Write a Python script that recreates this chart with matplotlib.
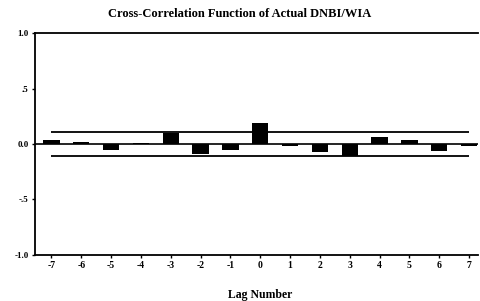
import matplotlib
matplotlib.use("Agg")
import matplotlib.pyplot as plt

lags = [-7, -6, -5, -4, -3, -2, -1, 0, 1, 2, 3, 4, 5, 6, 7]
ccf = [0.035, 0.015, -0.055, 0.01, 0.10, -0.09, -0.05, 0.19, -0.02,
       -0.075, -0.105, 0.065, 0.04, -0.06, -0.015]
conf_limit = 0.105
ytick_vals = [-1.0, -0.5, 0.0, 0.5, 1.0]
ytick_labels = ["-1.0", "-.5", "0.0", ".5", "1.0"]

plt.rcParams['font.family'] = ['Liberation Serif', 'DejaVu Serif']

fig = plt.figure(figsize=(4.8, 3.01), dpi=100)
ax = fig.add_axes([0.073, 0.153, 0.923, 0.737])

ax.bar(lags, ccf, width=0.55, color="black")
ax.axhline(0, color="black", lw=1.2)
ax.hlines([conf_limit, -conf_limit], lags[0], lags[-1], color="black", lw=1.3)

ax.set_xlim(-7.55, 7.3)
ax.set_ylim(-1.0, 1.0)
ax.set_xticks(lags)
ax.set_xticklabels([str(l) for l in lags], fontsize=7, fontweight="bold")
ax.set_yticks(ytick_vals)
ax.set_yticklabels(ytick_labels, fontsize=6.5, fontweight="bold")
ax.tick_params(axis="both", length=2.5, width=1, pad=2)

ax.spines["right"].set_visible(False)
for s in ["left", "bottom", "top"]:
    ax.spines[s].set_linewidth(1.3)

fig.text(0.5, 0.955, "Cross-Correlation Function of Actual DNBI/WIA",
         ha="center", va="center", fontsize=9, fontweight="bold")
fig.text(0.542, 0.02, "Lag Number", ha="center", va="center",
         fontsize=8.5, fontweight="bold")

fig.savefig("out.png", dpi=100)
